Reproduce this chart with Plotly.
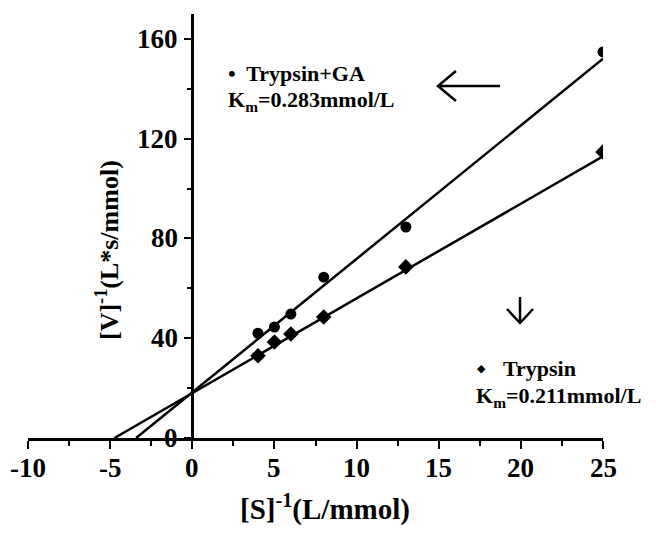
import plotly.graph_objects as go
import numpy as np

# ---- data ----
s_inv = [4, 5, 6, 8, 13, 25]                      # [S]^-1 (L/mmol)
v_inv_ga = [42, 44.5, 49.7, 64.5, 84.6, 154.8]    # Trypsin+GA
v_inv_tr = [33, 38.5, 41.7, 48.5, 68.6, 114.7]    # Trypsin

# fitted lines: x-intercept (-1/Km) and y-intercept (1/Vmax)
line_names = ["Trypsin+GA", "Trypsin"]
x_intercepts = [-3.42, -4.74]
y_intercepts = [18.3, 18.0]
x_end = 25

x_ticks = [-10, -5, 0, 5, 10, 15, 20, 25]
y_ticks = [0, 40, 80, 120, 160]

X_RANGE = [-10, 25]
Y_RANGE = [0, 170]

# page body has an 8px margin -> figure drawn 8px shifted
OFF = 8
W, H = 648, 527
ML, MT = 28 - OFF, 14 - OFF
PW, PH = 575, 424
MR, MB = W - ML - PW, H - MT - PH
Y_AXIS_POS = (0 - X_RANGE[0]) / (X_RANGE[1] - X_RANGE[0])


def px(xp, yp):
    """screen pixel -> paper coords"""
    xp -= OFF
    yp -= OFF
    return (xp - ML) / PW, (H - MB - yp) / PH


fig = go.Figure()

for xi, yi in zip(x_intercepts, y_intercepts):
    slope = -yi / xi
    xs = np.array([xi, x_end])
    fig.add_trace(go.Scatter(x=xs, y=yi + slope * xs, mode="lines",
                             line=dict(color="black", width=2.5),
                             showlegend=False, hoverinfo="skip"))

fig.add_trace(go.Scatter(x=s_inv, y=v_inv_ga, mode="markers", name="Trypsin+GA",
                         marker=dict(symbol="circle", size=11, color="black"),
                         showlegend=False))
fig.add_trace(go.Scatter(x=s_inv, y=v_inv_tr, mode="markers", name="Trypsin",
                         marker=dict(symbol="diamond", size=12, color="black"),
                         showlegend=False))

fig.update_layout(
    width=W, height=H,
    margin=dict(l=ML, r=MR, t=MT, b=MB),
    paper_bgcolor="white", plot_bgcolor="white",
    xaxis=dict(range=X_RANGE, tickvals=x_ticks, showticklabels=False,
               ticks="outside", ticklen=8, tickwidth=2,
               tickcolor="black", showline=True, linecolor="black", linewidth=2.5,
               showgrid=False, zeroline=False,
               minor=dict(dtick=2.5, tick0=0, ticks="outside", ticklen=5, tickwidth=2,
                          tickcolor="black", showgrid=False)),
    yaxis=dict(range=Y_RANGE, tickvals=y_ticks, showticklabels=False,
               ticks="outside", ticklen=8, tickwidth=2,
               tickcolor="black", showline=True, linecolor="black", linewidth=2.5,
               showgrid=False, zeroline=False,
               anchor="free", position=Y_AXIS_POS,
               minor=dict(dtick=20, tick0=0, ticks="outside", ticklen=5, tickwidth=2,
                          tickcolor="black", showgrid=False)),
)

tickfont = dict(family="Liberation Serif", size=27, color="black")
for v in x_ticks:
    fig.add_annotation(text=f"<b>{v}</b>", x=v, xref="x", y=0, yref="paper",
                       xanchor="center", yanchor="top", yshift=-13, showarrow=False,
                       font=tickfont)
for v in y_ticks:
    fig.add_annotation(text=f"<b>{v}</b>", x=Y_AXIS_POS, xref="paper", y=v, yref="y",
                       xanchor="right", yanchor="middle", xshift=-12, showarrow=False,
                       font=tickfont)

afont = dict(family="Liberation Serif", size=22, color="black")
tfont = dict(family="Liberation Serif", size=29, color="black")
yfont = dict(family="Liberation Serif", size=26, color="black")

anns = [
    dict(text="<b>•  Trypsin+GA</b>", pos=(226, 73), xanchor="left", font=afont),
    dict(text="<b>K<sub>m</sub>=0.283mmol/L</b>", pos=(226, 101), xanchor="left", font=afont),
    dict(text="<b>Trypsin</b>", pos=(501, 368), xanchor="left", font=afont),
    dict(text="<b>K<sub>m</sub>=0.211mmol/L</b>", pos=(474, 397), xanchor="left", font=afont),
    dict(text="<b>[S]<sup>-1</sup>(L/mmol)</b>", pos=(325, 507), xanchor="center", font=tfont),
]
for a in anns:
    x, y = px(*a["pos"])
    fig.add_annotation(text=a["text"], x=x, y=y, xref="paper", yref="paper",
                       xanchor=a["xanchor"], yanchor="middle", showarrow=False,
                       font=a["font"])

# diamond bullet
x, y = px(481, 368)
fig.add_annotation(text="◆", x=x, y=y, xref="paper", yref="paper", showarrow=False,
                   xanchor="center", yanchor="middle",
                   font=dict(family="DejaVu Sans", size=11, color="black"))

# y title
x, y = px(107, 250)
fig.add_annotation(text="<b>[V]<sup>-1</sup>(L*s/mmol)</b>", x=x, y=y, xref="paper", yref="paper",
                   textangle=-90, showarrow=False, xanchor="center", yanchor="middle",
                   font=yfont)


def path(points):
    parts = []
    for i, (xp, yp) in enumerate(points):
        x, y = px(xp, yp)
        parts.append(("M" if i == 0 else "L") + f"{x:.4f},{y:.4f}")
    return " ".join(parts)


arrow_paths = [
    [(500, 86), (438, 86)],
    [(456, 71), (438, 86), (456, 101)],
    [(520, 297), (520, 323)],
    [(507, 309), (520, 323), (533, 309)],
]
for p in arrow_paths:
    fig.add_shape(type="path", path=path(p), xref="paper", yref="paper",
                  line=dict(color="black", width=2.5))

fig.write_html("out.html")
